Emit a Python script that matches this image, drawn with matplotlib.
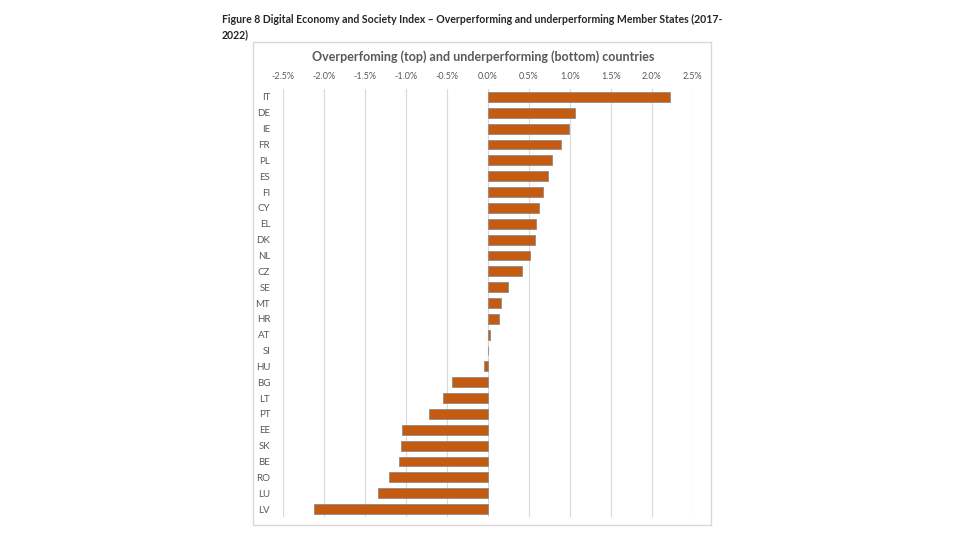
import matplotlib
matplotlib.use('Agg')
import matplotlib.pyplot as plt
from matplotlib.patches import Rectangle
from matplotlib.ticker import FuncFormatter

plt.rcParams['font.family'] = ['Lato', 'DejaVu Sans']

# countries from top to bottom, change in percent
countries = ['IT', 'DE', 'IE', 'FR', 'PL', 'ES', 'FI', 'CY', 'EL', 'DK', 'NL',
             'CZ', 'SE', 'MT', 'HR', 'AT', 'SI', 'HU', 'BG', 'LT', 'PT', 'EE',
             'SK', 'BE', 'RO', 'LU', 'LV']
values = [2.22, 1.07, 0.99, 0.89, 0.78, 0.73, 0.68, 0.63, 0.585, 0.58, 0.52,
          0.42, 0.25, 0.165, 0.135, 0.03, 0.008, -0.045, -0.44, -0.55, -0.71,
          -1.045, -1.055, -1.085, -1.205, -1.335, -2.115]
x_ticks = [-2.5, -2.0, -1.5, -1.0, -0.5, 0.0, 0.5, 1.0, 1.5, 2.0, 2.5]

fig = plt.figure(figsize=(9.66, 5.42), dpi=100)

# chart frame
fig.patches.append(Rectangle((253 / 966, 1 - 525 / 542), (711 - 253) / 966,
                             (525 - 42) / 542, transform=fig.transFigure,
                             facecolor='none', edgecolor='#d9d9d9', lw=1,
                             zorder=-1))

fig.text(222 / 966, 1 - 27 / 542,
         'Figure 8 Digital Economy and Society Index \u2013 Overperforming and underperforming Member States (2017-\n2022)',
         fontsize=7.6, fontweight='bold', color='#262626', va='center', ha='left',
         linespacing=1.55)
fig.text(483 / 966, 1 - 57 / 542,
         'Overperfoming (top) and underperforming (bottom) countries',
         fontsize=9, fontweight='bold', color='#595959', ha='center', va='center')

ax = fig.add_axes([282.7 / 966, 25 / 542, 410 / 966, 428 / 542])
pos = range(len(values))
ax.barh(pos, values, height=0.62, color='#c55a11', edgecolor='#8c8c8c', lw=0.6,
        zorder=3)
ax.set_ylim(len(values) - 0.5, -0.5)
ax.set_xlim(-2.5, 2.5)
ax.set_yticks(list(pos))
ax.set_yticklabels(countries)
ax.set_xticks(x_ticks)
ax.xaxis.set_major_formatter(FuncFormatter(lambda v, p: '%.1f%%' % v))
ax.xaxis.tick_top()
ax.tick_params(axis='both', length=0, labelsize=6.5, labelcolor='#595959')
ax.tick_params(axis='x', pad=6)
ax.tick_params(axis='y', pad=9, labelsize=7)
ax.grid(axis='x', color='#d9d9d9', lw=0.8, zorder=0)
for s in ax.spines.values():
    s.set_visible(False)
ax.set_facecolor('none')

plt.savefig('out.png', dpi=100)
